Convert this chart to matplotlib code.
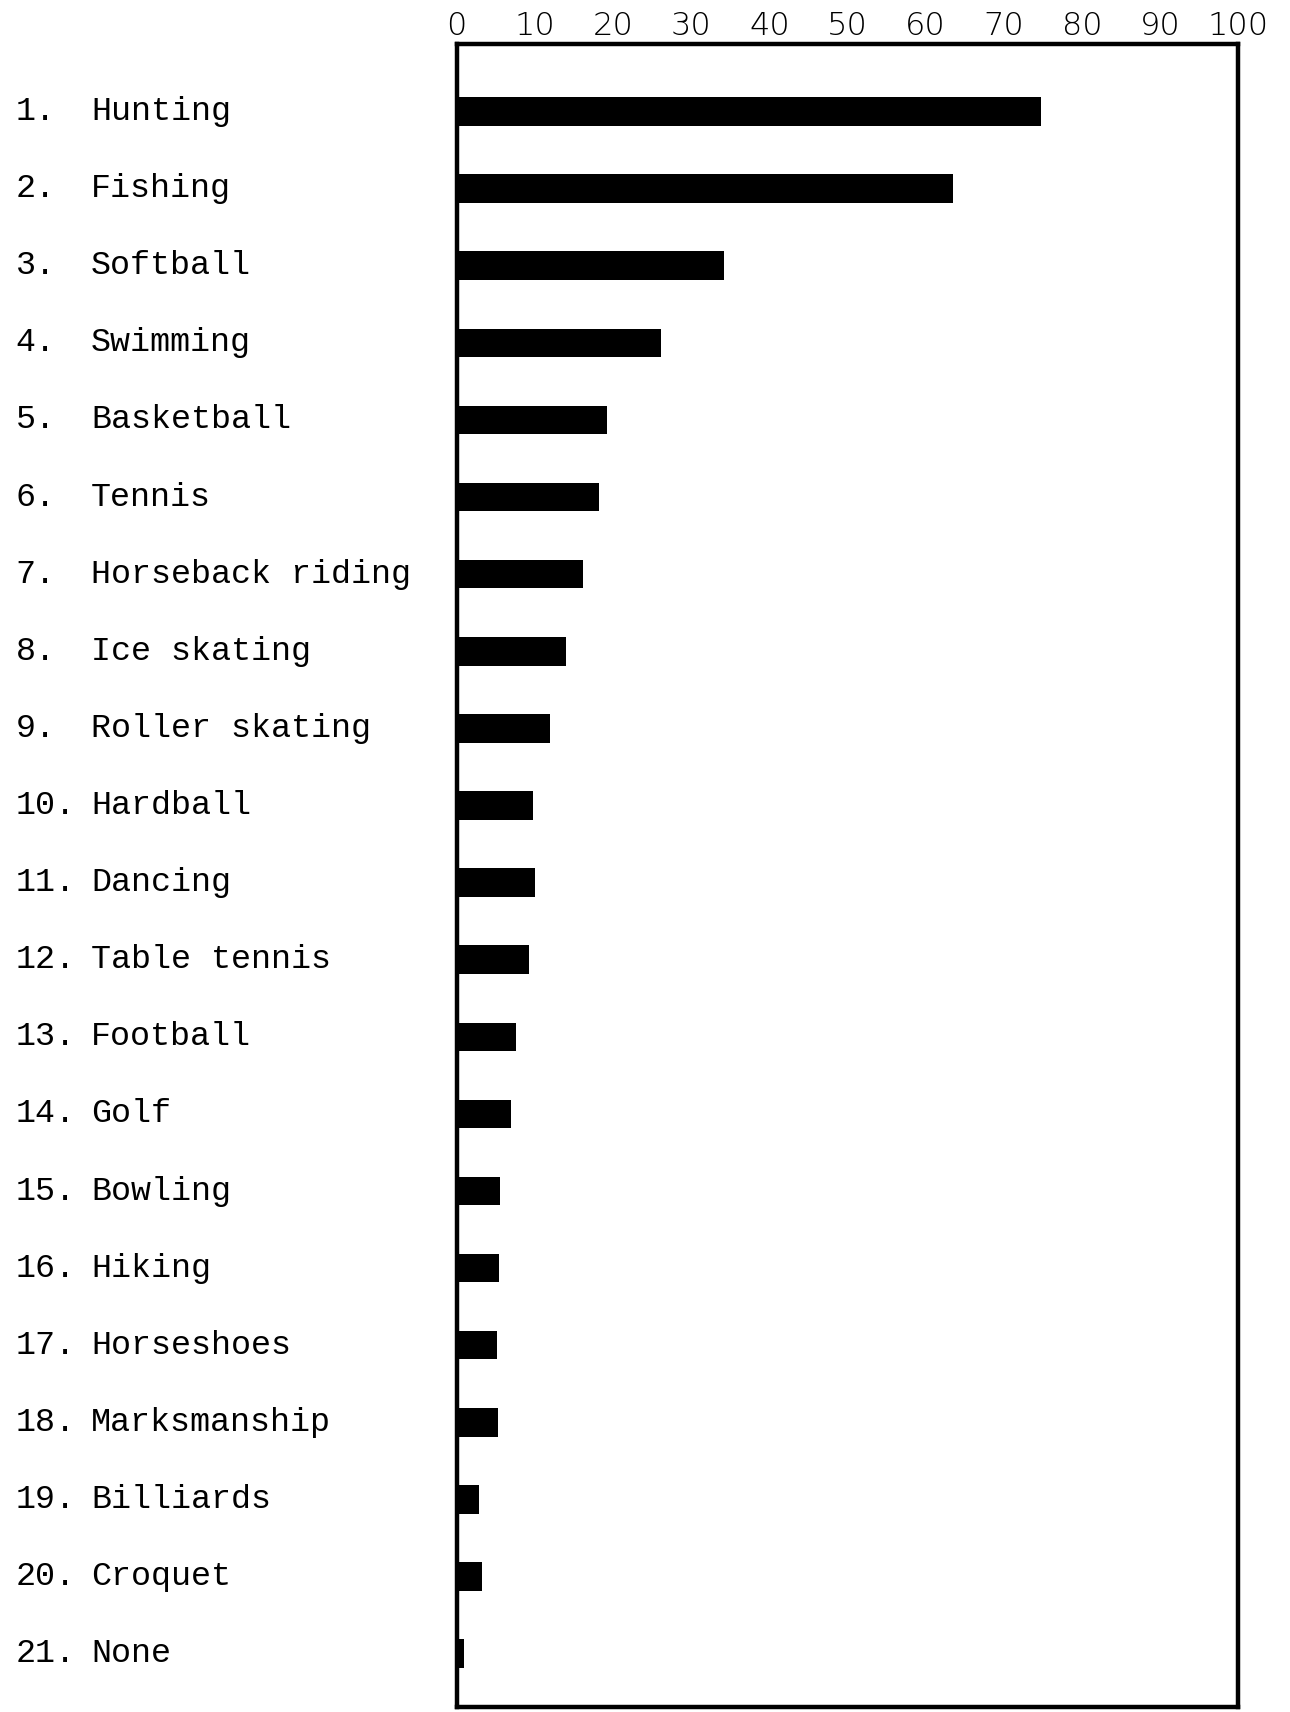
import matplotlib.pyplot as plt
import matplotlib.transforms as mtransforms
import numpy as np

# activities and percentages
ranks = [f"{i}." for i in range(1, 22)]
activities = ["Hunting", "Fishing", "Softball", "Swimming", "Basketball",
              "Tennis", "Horseback riding", "Ice skating", "Roller skating",
              "Hardball", "Dancing", "Table tennis", "Football", "Golf",
              "Bowling", "Hiking", "Horseshoes", "Marksmanship", "Billiards",
              "Croquet", "None"]
percent = [74.8, 63.5, 34.2, 26.2, 19.2, 18.2, 16.1, 14.0, 11.9, 9.8,
           10.0, 9.3, 7.6, 7.0, 5.6, 5.4, 5.1, 5.3, 2.9, 3.3, 1.0]
xticks = list(range(0, 101, 10))

fig = plt.figure(figsize=(12.9, 17.12), dpi=100)
ax = fig.add_axes([0.354, 0.003, 0.606, 0.9715])

y = np.arange(1, len(activities) + 1)
ax.barh(y, percent, height=0.37, color="black", left=0)

ax.set_xlim(0, 100)
ax.set_ylim(21.69, 0.12)
ax.xaxis.tick_top()
ax.set_xticks(xticks)
ax.set_xticklabels([str(t) for t in xticks], fontsize=23,
                   family="DejaVu Sans", fontweight="light")
ax.tick_params(axis="x", length=0, pad=2)
ax.set_yticks([])
for s in ax.spines.values():
    s.set_linewidth(3.2)

trans = mtransforms.blended_transform_factory(fig.transFigure, ax.transData)
mono = ["Liberation Mono", "DejaVu Sans Mono"]
for yi, r, name in zip(y, ranks, activities):
    ax.text(0.012, yi, r, transform=trans, fontsize=24, family=mono,
            va="center", ha="left", clip_on=False)
    ax.text(0.0705, yi, name, transform=trans, fontsize=24, family=mono,
            va="center", ha="left", clip_on=False)

fig.savefig("out.png", dpi=100)
